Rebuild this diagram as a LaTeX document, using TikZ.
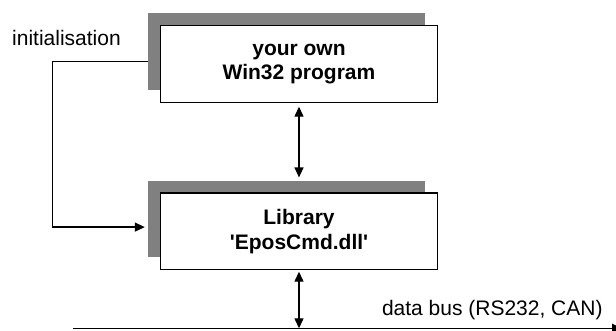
\documentclass[tikz,border=0pt]{standalone}
\usepackage{fontspec}
\setmainfont{Liberation Sans}
\usetikzlibrary{calc,positioning,arrows.meta,shadows}
\tikzset{
    block/.style={
    rectangle,draw=black,line width=0.7pt,fill=white,minimum width=138.3pt,minimum height=38.3pt,inner sep=0pt,align=center,
    font=\fontsize{10.5}{12.3}\selectfont\bfseries,
    drop shadow={shadow xshift=-6.2pt,shadow yshift=6.2pt,fill=gray,opacity=1}
    },
    txt/.style={inner sep=0pt,font=\fontsize{10.5}{12.3}\selectfont},
  line/.style={draw, line width=0.65pt, -{Triangle[length=5pt,width=4.5pt]}},
  dline/.style={draw, line width=0.65pt, {Triangle[length=5pt,width=4.5pt]}-{Triangle[length=5pt,width=4.5pt]}},
}
\begin{document}
\begin{tikzpicture}
\useasboundingbox (0,0) rectangle (308pt,-165.5pt);

  \node[block] (prog) at (149.5pt,-32pt) {your own\\Win32 program};
  \node[block,below=44.7pt of prog] (lib) {Library\\\textquotesingle EposCmd.dll\textquotesingle};
  \node[txt,anchor=west] (init) at (5.9pt,-19.2pt) {initialisation};
  \coordinate (busL) at (36.35pt,-164.15pt);
  \coordinate (busR) at (311pt,-164.15pt);
  \node[txt,anchor=east] (bus) at (301.5pt,-155pt) {data bus (RS232, CAN)};

  \path[line] ([xshift=-6.2pt,yshift=1.15pt]prog.west) -- ++(-47.5pt,0) |- ([xshift=-7.6pt,yshift=2.15pt]lib.west);
  \path[dline,shorten <=1.85pt,shorten >=7.5pt] (prog.south) -- (lib.north);
  \path[dline,shorten <=0.65pt] (lib.south) -- (lib.south |- busL);
  \path[line] (busL) -- (busR);
\end{tikzpicture}
\end{document}
